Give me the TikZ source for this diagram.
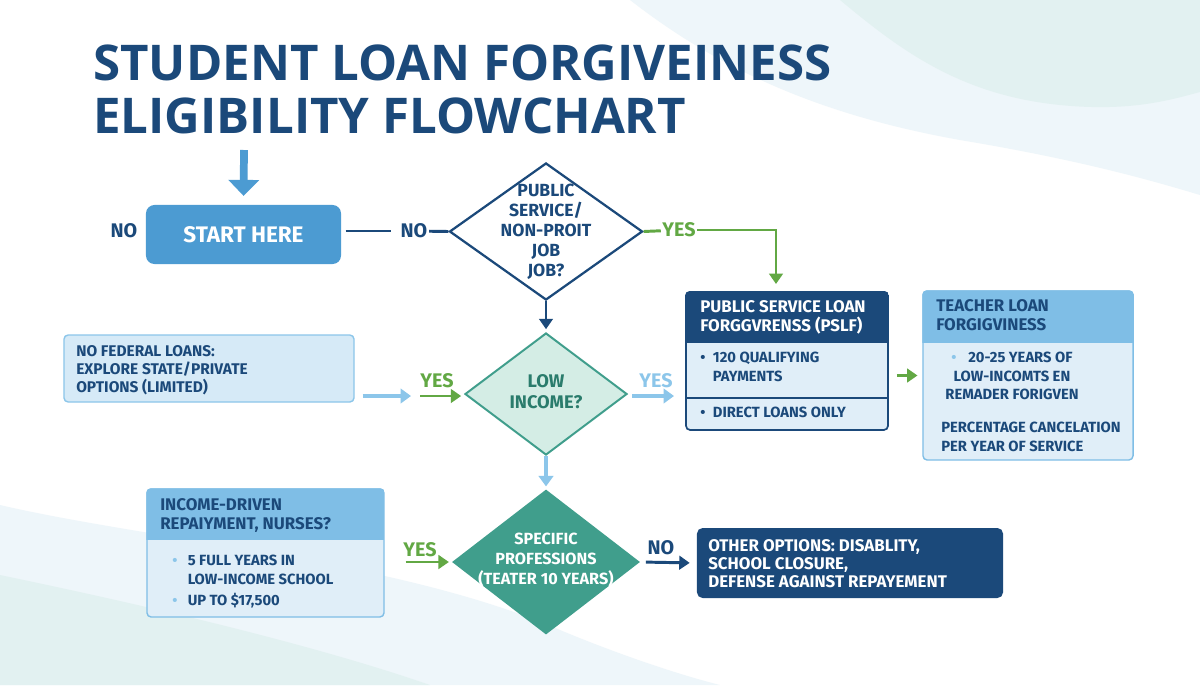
\documentclass[tikz,border=0pt]{standalone}
\usepackage{fontspec}
\setmainfont{Fira Sans}
\newfontfamily\titlefont{Open Sans}
\usetikzlibrary{shapes.geometric,arrows.meta,positioning,calc}
\definecolor{navy}{RGB}{27,73,122}
\definecolor{startblue}{RGB}{76,155,210}
\definecolor{hdrblue}{RGB}{127,190,230}
\definecolor{paleblue}{RGB}{224,238,248}
\definecolor{fedblue}{RGB}{214,234,247}
\definecolor{lineblue}{RGB}{140,198,234}
\definecolor{teal}{RGB}{64,158,140}
\definecolor{paleteal}{RGB}{212,237,229}
\definecolor{tealdark}{RGB}{42,124,108}
\definecolor{softgreen}{RGB}{98,168,68}
\definecolor{bgA}{RGB}{238,246,250}
\definecolor{bgB}{RGB}{226,241,241}

\begin{document}
\begin{tikzpicture}[x=0.025cm, y=-0.025cm,
    title/.style={anchor=north west, align=left, inner sep=0pt, text=navy,
                  font=\titlefont\fontsize{35}{37.5}\selectfont\bfseries},
    lbl/.style={inner sep=1pt, font=\fontsize{14}{14}\selectfont\bfseries},
    startbox/.style={rectangle, rounded corners=6pt, fill=startblue, text=white,
                     minimum width=4.875cm, minimum height=1.475cm,
                     font=\fontsize{16}{16}\selectfont\bfseries},
    decision/.style={diamond, inner sep=0pt},
    dtext/.style={align=center, inner sep=0pt},
    card/.style={rectangle, rounded corners=3pt, inner sep=0pt},
    btext/.style={anchor=north west, align=left, inner sep=0pt, text=navy,
                  font=\fontsize{10.5}{13}\selectfont\bfseries},
    htext/.style={anchor=north west, align=left, inner sep=0pt,
                  font=\fontsize{12}{13.5}\selectfont\bfseries},
    navyarr/.style={navy, line width=2.1pt, -{Triangle[length=2.6mm, width=3.4mm]}},
    greenarr/.style={softgreen, line width=2.1pt, -{Triangle[length=2.6mm, width=3.4mm]}},
    lightarr/.style={lineblue, line width=2.6pt, -{Triangle[length=2.6mm, width=3.6mm]}}
]
    % background
    \useasboundingbox (0,0) rectangle (1200,685);
    \fill[white] (0,0) rectangle (1200,685);
    \fill[bgA] (630,0) .. controls (720,70) and (820,115) .. (960,140)
        .. controls (1080,160) and (1150,180) .. (1200,195) -- (1200,0) -- cycle;
    \fill[bgB] (840,0) .. controls (900,50) and (960,95) .. (1060,105)
        .. controls (1130,112) and (1170,100) .. (1200,92) -- (1200,0) -- cycle;
    \fill[bgA] (0,505) .. controls (150,540) and (400,560) .. (560,630)
        .. controls (620,655) and (680,675) .. (720,685) -- (0,685) -- cycle;
    \fill[bgB] (0,575) .. controls (120,600) and (300,640) .. (430,685) -- (0,685) -- cycle;

    \node[title] (title) at (93,45) {STUDENT LOAN FORGIVEINESS\\ELIGIBILITY FLOWCHART};

    % top row
    \node[startbox] (start) at (243.5,234.5) {START HERE};
    \coordinate (entry) at (244,150);
    \draw[startblue, line width=5.5pt, -{Triangle[length=4mm, width=7.5mm]},
          shorten >=0.22cm] (entry) -- (start.north);
    \node[lbl, text=navy] (noL) at (124,231) {NO};
    \node[lbl, text=navy] (noA) at (414,231) {NO};
    \node[decision, draw=navy, line width=1.6pt, fill=white,
          minimum width=4.825cm, minimum height=3.425cm] (d1) at (546,231.5) {};
    \node[dtext, text=navy, font=\fontsize{12.5}{14.2}\selectfont\bfseries] (d1t) at (546,232)
        {PUBLIC\\SERVICE/\\NON-PROIT\\JOB\\JOB?};
    \node[lbl, text=softgreen] (yesA) at (679,230) {YES};
    \coordinate (psin) at (776,284);

    \draw[navy, line width=2.1pt, shorten <=3pt, shorten >=6pt] (start.east |- noA) -- (noA);
    \draw[navy, line width=2.1pt] (noA) -- (d1.west);
    \draw[softgreen, line width=2.1pt] (d1.east) -- (yesA);
    \draw[greenarr] (yesA) -| (psin);

    % middle row
    \node[decision, draw=teal, line width=1.4pt, fill=paleteal,
          minimum width=4.05cm, minimum height=3.05cm] (d2) at (546,394) {};
    \node[dtext, text=tealdark, font=\fontsize{13}{15}\selectfont\bfseries] (d2t) at (546,392)
        {LOW\\INCOME?};
    \draw[navyarr, shorten >=2pt] (d1.south) -- (d2.north);

    \node[card, draw=lineblue, line width=1pt, fill=fedblue,
          minimum width=7.25cm, minimum height=1.675cm] (nofed) at (209,368.5) {};
    \node[btext, font=\fontsize{11}{12.8}\selectfont\bfseries] (nofedt) at (76,345)
        {NO FEDERAL LOANS:\\EXPLORE STATE/PRIVATE\\OPTIONS (LIMITED)};
    \coordinate (ya1) at (411,396);
    \coordinate (ya2) at (420,396);
    \draw[lightarr, shorten <=0.2cm] (nofed.east |- ya1) -- (ya1);
    \draw[greenarr, shorten >=2pt] (ya2) -- (d2.west |- ya2);
    \node[lbl, text=softgreen] (yesB) at (437,381) {YES};

    \coordinate (yb) at (674,396);
    \draw[lightarr, shorten <=3pt] (d2.east |- yb) -- (yb);
    \node[lbl, text=lineblue] (yesC) at (656,381) {YES};

    % PSLF card
    \node[card, draw=navy, line width=1.2pt, fill=paleblue,
          minimum width=5.05cm, minimum height=3.45cm] (pslf) at (787,361) {};
    \begin{scope}
        \clip[rounded corners=3pt] (pslf.north west) rectangle (pslf.south east);
        \fill[navy] (pslf.north west) rectangle (pslf.east |- 0,343);
    \end{scope}
    \draw[navy, line width=1.2pt] (pslf.west |- 0,398) -- (pslf.east |- 0,398);
    \node[htext, text=white] (pslfh) at (700,300) {PUBLIC SERVICE LOAN\\FORGGVRENSS (PSLF)};
    \node[btext] (pslfa) at (700,352) {\makebox[9pt][l]{•}120 QUALIFYING\\\hspace*{9pt}PAYMENTS};
    \node[btext] (pslfb) at (700,407) {\makebox[9pt][l]{•}DIRECT LOANS ONLY};

    % teacher card
    \node[card, draw=hdrblue, line width=1pt, fill=paleblue,
          minimum width=5.25cm, minimum height=4.225cm] (teacher) at (1028,375.5) {};
    \begin{scope}
        \clip[rounded corners=3pt] (teacher.north west) rectangle (teacher.south east);
        \fill[hdrblue] (teacher.north west) rectangle (teacher.east |- 0,343);
    \end{scope}
    \node[htext, text=navy] (teacherh) at (936,299) {TEACHER LOAN\\FORGIGVINESS};
    \node[btext, anchor=north, align=center] (teachera) at (1012,352)
        {\makebox[12pt][l]{\color{lineblue}•}20-25 YEARS OF\\LOW-INCOMTS EN\\REMADER FORIGVEN};
    \node[btext] (teacherb) at (941,422) {PERCENTAGE CANCELATION\\PER YEAR OF SERVICE};
    \draw[greenarr, shorten <=0.2cm, shorten >=0.12cm] (pslf.east |- teacher.west) -- (teacher.west);

    % bottom row
    \node[decision, fill=teal, minimum width=4.7cm, minimum height=3.625cm] (d3) at (546,562) {};
    \node[dtext, text=white, font=\fontsize{11.5}{14.5}\selectfont\bfseries] (d3t) at (546,560)
        {SPECIFIC\\PROFESSIONS\\(TEATER 10 YEARS)};
    \draw[lightarr, shorten >=2pt] (d2.south) -- (d3.north);

    \node[card, draw=hdrblue, line width=1pt, fill=paleblue,
          minimum width=5.925cm, minimum height=3.2cm] (idr) at (265.5,553) {};
    \begin{scope}
        \clip[rounded corners=3pt] (idr.north west) rectangle (idr.south east);
        \fill[hdrblue] (idr.north west) rectangle (idr.east |- 0,540);
    \end{scope}
    \node[htext, text=navy] (idrh) at (160,498) {INCOME-DRIVEN\\REPAIYMENT, NURSES?};
    \node[btext] (idra) at (172,555)
        {\makebox[11pt][l]{\color{lineblue}•}5 FULL YEARS IN\\\hspace*{11pt}LOW-INCOME SCHOOL};
    \node[btext] (idrb) at (172,593) {\makebox[11pt][l]{\color{lineblue}•}UP TO \$17,500};

    \node[card, rounded corners=4pt, fill=navy, minimum width=7.65cm,
          minimum height=1.75cm] (other) at (850,563) {};
    \node[btext, text=white, font=\fontsize{12}{12.8}\selectfont\bfseries] (othert) at (708,539)
        {OTHER OPTIONS: DISABLITY,\\SCHOOL CLOSURE,\\DEFENSE AGAINST REPAYEMENT};

    \draw[greenarr, shorten <=0.52cm, shorten >=2pt] (idr.east |- d3.west) -- (d3.west);
    \node[lbl, text=softgreen] (yesD) at (420,550) {YES};
    \draw[navyarr, shorten <=4pt, shorten >=5pt] (d3.east) -- (other.west);
    \node[lbl, text=navy] (noB) at (661,548) {NO};
\end{tikzpicture}
\end{document}
